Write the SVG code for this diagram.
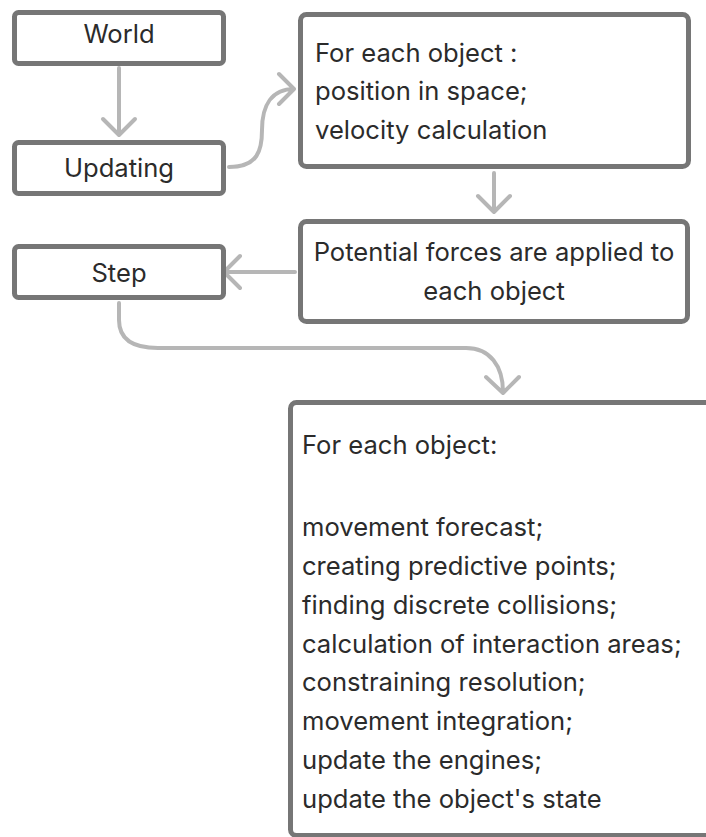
<svg xmlns="http://www.w3.org/2000/svg" width="706" height="837" viewBox="0 0 706 837">
<defs>
<style>
.box{fill:#ffffff;stroke:#767676;stroke-width:5}
.t{font-family:Inter,"Noto Sans","Liberation Sans",sans-serif;font-size:25.6px;fill:#2b2b2b}
.c{text-anchor:middle}
.conn{fill:none;stroke:#b6b6b6;stroke-width:4;stroke-linecap:round;stroke-linejoin:round}
</style>
</defs>
<rect width="706" height="837" fill="#ffffff"/>
<g id="connectors">
<path class="conn" d="M119 68 V134 M103 119 L119 135 L135 119"/>
<path class="conn" d="M229 167 C258 167 262 150 262 130 C262 105 272 89 294 89 M279 74 L294 89 L279 104"/>
<path class="conn" d="M494 173 V212 M478 196 L494 212 L510 196"/>
<path class="conn" d="M295 272 H224 M240 256 L224 272 L240 288"/>
<path class="conn" d="M119 303 V320 C119 337 130 348 158 348 H466 C490 348 503 366 503 392 M486 377 L503 393 L519 377"/>
</g>
<g id="world"><rect class="box" x="14.5" y="12.5" width="209" height="51" rx="4"/><text class="t c" x="119" y="43">World</text></g>
<g id="updating"><rect class="box" x="14.5" y="142.5" width="209" height="51" rx="4"/><text class="t c" x="119" y="177">Updating</text></g>
<g id="step"><rect class="box" x="14.5" y="246.5" width="209" height="51" rx="4"/><text class="t c" x="119" y="282">Step</text></g>
<g id="position"><rect class="box" x="300.5" y="14.5" width="388" height="152" rx="6"/>
<text class="t" x="315" y="62">For each object :</text>
<text class="t" x="315" y="100">position in space;</text>
<text class="t" x="315" y="139">velocity calculation</text></g>
<g id="forces"><rect class="box" x="300.5" y="221.5" width="387" height="100" rx="6"/>
<text class="t c" x="494" y="261">Potential forces are applied to</text>
<text class="t c" x="494" y="300">each object</text></g>
<g id="perobject"><rect class="box" x="290.5" y="402.5" width="440" height="433" rx="6"/>
<text class="t" x="302" y="454">For each object:</text>
<text class="t" x="302" y="536">movement forecast;</text>
<text class="t" x="302" y="575">creating predictive points;</text>
<text class="t" x="302" y="614">finding discrete collisions;</text>
<text class="t" x="302" y="653">calculation of interaction areas;</text>
<text class="t" x="302" y="691">constraining resolution;</text>
<text class="t" x="302" y="730">movement integration;</text>
<text class="t" x="302" y="769">update the engines;</text>
<text class="t" x="302" y="808">update the object's state</text></g>
</svg>
